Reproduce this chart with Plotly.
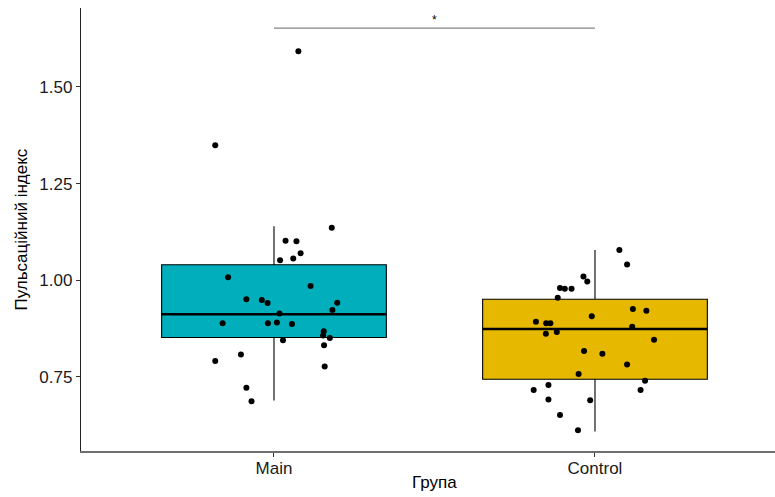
import plotly.graph_objects as go

# ---- data ----
groups = ["Main", "Control"]
colors = ["#00AFBB", "#E7B800"]

# box statistics (q1, median, q3, lower whisker, upper whisker)
q1 = [0.852, 0.744]
median = [0.912, 0.874]
q3 = [1.040, 0.951]
lower_whisker = [0.689, 0.609]
upper_whisker = [1.140, 1.078]

main_values = [1.592, 1.349, 1.136, 1.102, 1.101, 1.070, 1.052, 1.056, 1.008, 0.985,
               0.951, 0.949, 0.941, 0.942, 0.923, 0.914, 0.889, 0.889, 0.891, 0.887,
               0.868, 0.857, 0.851, 0.845, 0.832, 0.808, 0.791, 0.777, 0.722, 0.687]
main_jitter = [0.076, -0.183, 0.180, 0.036, 0.070, 0.083, 0.019, 0.060, -0.143, 0.114,
               -0.086, -0.038, -0.020, 0.197, 0.182, 0.017, -0.160, -0.019, 0.009, 0.056,
               0.155, 0.153, 0.174, 0.028, 0.156, -0.103, -0.183, 0.158, -0.086, -0.070]

control_values = [1.078, 1.041, 1.010, 0.997, 0.980, 0.978, 0.978, 0.955, 0.926, 0.921,
                  0.907, 0.893, 0.889, 0.889, 0.880, 0.866, 0.862, 0.846, 0.817, 0.810,
                  0.782, 0.758, 0.729, 0.740, 0.716, 0.716, 0.692, 0.690, 0.652, 0.612]
control_jitter = [0.076, 0.100, -0.036, -0.024, -0.109, -0.094, -0.073, -0.116, 0.118, 0.160,
                  -0.010, -0.184, -0.152, -0.139, 0.116, -0.119, -0.153, 0.184, -0.034, 0.023,
                  0.100, -0.051, -0.145, 0.156, -0.191, 0.142, -0.145, -0.015, -0.109, -0.053]

signif_y = 1.652
signif_label = "*"

x_title = "Група"
y_title = "Пульсаційний індекс"
y_ticks = [0.75, 1.00, 1.25, 1.50]

# ---- figure ----
FONT = "Liberation Sans, Arial, sans-serif"
BOX_W = 0.7
positions = [1, 2]
values = [main_values, control_values]
jitters = [main_jitter, control_jitter]

fig = go.Figure()

for i, pos in enumerate(positions):
    fig.add_trace(go.Box(
        x=[pos], q1=[q1[i]], median=[median[i]], q3=[q3[i]],
        lowerfence=[lower_whisker[i]], upperfence=[upper_whisker[i]],
        width=BOX_W, fillcolor=colors[i],
        line=dict(color="black", width=1.1), whiskerwidth=0,
        boxpoints=False, showlegend=False, hoverinfo="skip",
    ))
    # thicker median line
    fig.add_trace(go.Scatter(
        x=[pos - BOX_W / 2, pos + BOX_W / 2], y=[median[i], median[i]],
        mode="lines", line=dict(color="black", width=2.6),
        showlegend=False, hoverinfo="skip",
    ))

for i, pos in enumerate(positions):
    fig.add_trace(go.Scatter(
        x=[pos + j for j in jitters[i]], y=values[i],
        mode="markers", marker=dict(color="black", size=6),
        showlegend=False,
    ))

# significance bracket
fig.add_trace(go.Scatter(
    x=[positions[0], positions[1]], y=[signif_y, signif_y],
    mode="lines", line=dict(color="#666666", width=1),
    showlegend=False, hoverinfo="skip",
))
fig.add_annotation(
    x=(positions[0] + positions[1]) / 2, y=signif_y, text=signif_label,
    showarrow=False, yanchor="bottom", yshift=-1,
    font=dict(family=FONT, size=12, color="black"),
)

L, R, T, B = 81, 0, 8, 46
W, H = 775, 497
plot_w = W - L - R

fig.update_layout(
    width=W, height=H,
    margin=dict(l=L, r=R, t=T, b=B),
    plot_bgcolor="white", paper_bgcolor="white",
    font=dict(family=FONT, size=16, color="black"),
    showlegend=False,
)
fig.update_xaxes(
    range=[0.3988, 0.3988 + plot_w / 321.0],
    tickvals=positions, ticktext=groups,
    showgrid=False, zeroline=False,
    showline=True, linecolor="#6e6e6e", linewidth=1.6,
    ticks="outside", ticklen=4, tickcolor="#333333", tickwidth=1,
    ticklabelstandoff=-3,
    tickfont=dict(family=FONT, size=17, color="#1a1a1a"),
)
fig.update_yaxes(
    range=[0.5586, 1.704],
    tickvals=y_ticks, ticktext=[f"{v:.2f}" for v in y_ticks],
    showgrid=False, zeroline=False,
    showline=True, linecolor="#222222", linewidth=1.4,
    ticks="outside", ticklen=4, tickcolor="#333333", tickwidth=1,
    tickfont=dict(family=FONT, size=17, color="#1a1a1a"),
)

# axis titles
fig.add_annotation(
    xref="paper", yref="paper", x=(434 - L) / plot_w, y=0, yshift=-31,
    text=x_title, showarrow=False, xanchor="center", yanchor="middle",
    font=dict(family=FONT, size=17, color="black"),
)
fig.add_annotation(
    xref="paper", yref="paper", x=(21 - L) / plot_w, y=0.5,
    text=y_title, showarrow=False, textangle=-90,
    xanchor="center", yanchor="middle",
    font=dict(family=FONT, size=17, color="black"),
)

fig.write_html("out.html")
